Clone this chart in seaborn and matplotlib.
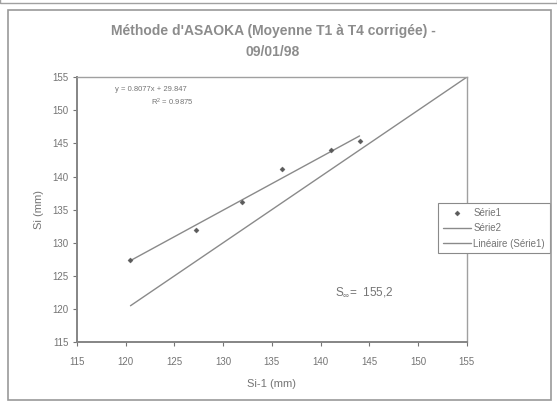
import numpy as np
import pandas as pd
import matplotlib
matplotlib.use("Agg")
import matplotlib.pyplot as plt
from matplotlib.patches import Rectangle
import seaborn as sns

# Série1 : Si-1 / Si (mm)
si_1 = [120.5, 127.2, 131.9, 136.0, 141.1, 144.0]
si = [127.4, 132.0, 136.2, 141.2, 144.0, 145.3]

# Série2 : droite Si = Si-1
serie2_x = [120.5, 155.0]
serie2_y = [120.5, 155.0]

ticks = [115, 120, 125, 130, 135, 140, 145, 150, 155]

df = pd.DataFrame({"Si-1": si_1, "Si": si})

sns.set_style("white")
plt.rcParams["font.family"] = ["Liberation Sans", "DejaVu Sans"]
plt.rcParams["mathtext.default"] = "regular"

grey_txt = "#747474"
grey_line = "#8a8a8a"

fig = plt.figure(figsize=(5.57, 4.04), dpi=100)
ax = fig.add_axes([0.138, 0.153, 0.700, 0.656])

sns.scatterplot(data=df, x="Si-1", y="Si", ax=ax, marker="D", s=7,
                color="#5a5a5a", edgecolor="#5a5a5a", label="Série1", zorder=4)
sns.lineplot(x=serie2_x, y=serie2_y, ax=ax, color=grey_line, lw=1.0,
             label="Série2")
sns.regplot(data=df, x="Si-1", y="Si", ax=ax, scatter=False, ci=None,
            color=grey_line, line_kws={"lw": 1.0}, label="Linéaire (Série1)")

ax.set_xlim(115, 155)
ax.set_ylim(115, 155)
ax.set_xticks(ticks)
ax.set_yticks(ticks)
ax.tick_params(axis="both", colors=grey_txt, labelsize=7, length=3,
               direction="out", bottom=True, left=True, pad=8)
ax.tick_params(axis="y", pad=3)
for side, sp in ax.spines.items():
    sp.set_color("#a0a0a0" if side in ("top", "right") else "#858585")
    sp.set_linewidth(1.0 if side in ("top", "right") else 1.4)

ax.set_xlabel("Si-1 (mm)", color=grey_txt, fontsize=8, labelpad=8)
ax.set_ylabel("Si (mm)", color=grey_txt, fontsize=8, labelpad=6)

fig.text(0.49, 0.898, "Méthode d'ASAOKA (Moyenne T1 à T4 corrigée) -\n09/01/98",
         ha="center", va="center", fontsize=10, fontweight="bold",
         color="#8c8c8c", linespacing=1.6)

ax.text(0.19, 0.952, "y = 0.8077x + 29.847", transform=ax.transAxes,
        ha="center", va="center", fontsize=5.5, color=grey_txt)
ax.text(0.245, 0.905, "R$^2$ = 0.9875", transform=ax.transAxes,
        ha="center", va="center", fontsize=5.5, color=grey_txt)
ax.text(141.5, 122.5, "S$_{\\infty}$=  155,2", ha="left", va="center",
        fontsize=8.5, color=grey_txt)

leg = ax.legend(loc="center left", bbox_to_anchor=(0.915, 0.43), fontsize=7,
                frameon=True, fancybox=False, framealpha=1, borderpad=0.5,
                labelspacing=0.55, handlelength=2.8, handletextpad=0.3)
leg.get_frame().set_edgecolor("#8a8a8a")
leg.get_frame().set_linewidth(0.8)
for t in leg.get_texts():
    t.set_color(grey_txt)

fig.patches.append(Rectangle((0.015, 0.01), 0.975, 0.965,
                             transform=fig.transFigure, fill=False,
                             edgecolor="#9a9a9a", lw=1.2))
fig.patches.append(Rectangle((0.0, 0.993), 1.0, 0.01,
                             transform=fig.transFigure, fill=False,
                             edgecolor="#a0a0a0", lw=1.0))

fig.savefig("out.png", dpi=100)
